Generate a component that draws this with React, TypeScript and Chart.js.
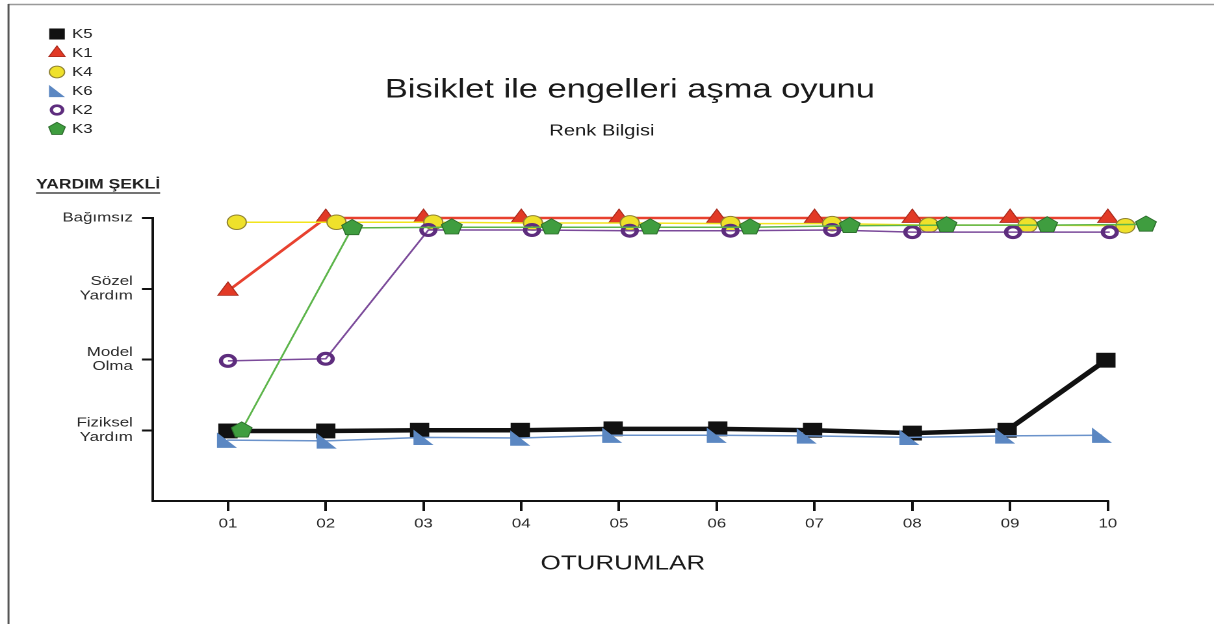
import React, { useEffect, useRef } from 'react';
import { Chart, registerables } from 'chart.js';

Chart.register(...registerables);

// ---------------- data ----------------
const sessionLabels = ['01', '02', '03', '04', '05', '06', '07', '08', '09', '10'];
// y value 1..4
const helpLevels = [['Fiziksel', 'Yardım'], ['Model', 'Olma'], ['Sözel', 'Yardım'], ['Bağımsız']];
const chartTitle = 'Bisiklet ile engelleri aşma oyunu';
const chartSubtitle = 'Renk Bilgisi';
const yAxisTitle = 'YARDIM ŞEKLİ';
const xAxisTitle = 'OTURUMLAR';
const seriesNames = ['K5', 'K1', 'K4', 'K6', 'K2', 'K3'];

// x = session (markers of overlapping series are shifted a little, as in the original)
const k5X = [1.0, 2.0, 2.96, 3.99, 4.94, 6.01, 6.98, 8.0, 8.97, 9.98];
const k5Y = [0.99, 0.99, 1.0, 1.0, 1.02, 1.02, 1.0, 0.96, 1.0, 1.99];
const k1X = [1, 2, 3, 4, 5, 6, 7, 8, 9, 10];
const k1Y = [2.97, 4, 4, 4, 4, 4, 4, 4, 4, 4];
const k4X = [1.09, 2.11, 3.1, 4.12, 5.11, 6.14, 7.18, 8.17, 9.18, 10.18];
const k4Y = [3.94, 3.94, 3.94, 3.93, 3.93, 3.92, 3.92, 3.9, 3.9, 3.89];
const k6X = [0.99, 2.01, 3.0, 3.99, 4.93, 6.0, 6.92, 7.97, 8.95, 9.94];
const k6Y = [0.86, 0.85, 0.9, 0.89, 0.93, 0.93, 0.92, 0.9, 0.92, 0.93];
const k2X = [1.0, 2.0, 3.05, 4.11, 5.11, 6.14, 7.18, 8.0, 9.03, 10.02];
const k2Y = [1.98, 2.01, 3.83, 3.83, 3.82, 3.82, 3.83, 3.8, 3.8, 3.8];
const k3X = [1.14, 2.27, 3.29, 4.31, 5.32, 6.34, 7.36, 8.35, 9.38, 10.39];
const k3Y = [1.0, 3.86, 3.87, 3.87, 3.87, 3.87, 3.89, 3.9, 3.9, 3.91];

// ---------------- layout ----------------
const FONT = '"Liberation Sans", Arial, Helvetica, sans-serif';
const S = 1.3; // the original picture is stretched horizontally
const CSS_W = 1214;
const CSS_H = 624;
const W = Math.round(CSS_W / S);
const H = CSS_H;
const px = (x: number) => x / S;

const AXIS_LEFT = 153;
const TICK_01 = 228;
const TICK_10 = 1108;
const PLOT_TOP = 218;
const PLOT_BOTTOM = 501;
const X_AXIS_H = 40;
const unitRef = (TICK_10 - TICK_01) / 9;
const X_MIN = 1 - (TICK_01 - AXIS_LEFT) / unitRef;
const X_MAX = 10.6;
const RIGHT_PAD = W - px(TICK_10 + (X_MAX - 10) * unitRef);

type MarkerKind = 'square' | 'triangle' | 'circle' | 'ring' | 'rtri' | 'pentagon';

function drawMarker(ctx: CanvasRenderingContext2D, kind: MarkerKind, x: number, y: number, k = 1) {
  ctx.save();
  ctx.beginPath();
  switch (kind) {
    case 'square': {
      const h = 7.5 * k;
      ctx.fillStyle = '#111111';
      ctx.fillRect(x - h, y - h * 0.92, 2 * h, 2 * h * 0.92);
      break;
    }
    case 'triangle': {
      const r = 9 * k;
      for (let i = 0; i < 3; i++) {
        const a = (i * 2 * Math.PI) / 3;
        const xx = x + Math.sin(a) * r;
        const yy = y - Math.cos(a) * r;
        if (i === 0) ctx.moveTo(xx, yy);
        else ctx.lineTo(xx, yy);
      }
      ctx.closePath();
      ctx.fillStyle = '#e23a26';
      ctx.fill();
      ctx.strokeStyle = '#a8291c';
      ctx.lineWidth = 0.8;
      ctx.stroke();
      break;
    }
    case 'circle': {
      ctx.arc(x, y, 7.3 * k, 0, Math.PI * 2);
      ctx.fillStyle = '#efe12b';
      ctx.fill();
      ctx.strokeStyle = '#8f8232';
      ctx.lineWidth = 1;
      ctx.stroke();
      break;
    }
    case 'ring': {
      ctx.arc(x, y, 5.4 * k, 0, Math.PI * 2);
      ctx.strokeStyle = '#5e2d7e';
      ctx.lineWidth = 3.2 * k;
      ctx.stroke();
      break;
    }
    case 'rtri': {
      const h = 7.7 * k;
      ctx.moveTo(x - h, y - h);
      ctx.lineTo(x - h, y + h);
      ctx.lineTo(x + h, y + h);
      ctx.closePath();
      ctx.fillStyle = '#5b87c2';
      ctx.fill();
      break;
    }
    case 'pentagon': {
      const R = 8.4 * k;
      for (let i = 0; i < 5; i++) {
        const a = -Math.PI / 2 + (i * 2 * Math.PI) / 5;
        const xx = x + Math.cos(a) * R;
        const yy = y + Math.sin(a) * R;
        if (i === 0) ctx.moveTo(xx, yy);
        else ctx.lineTo(xx, yy);
      }
      ctx.closePath();
      ctx.fillStyle = '#3f9d3f';
      ctx.fill();
      ctx.strokeStyle = '#2b6b2b';
      ctx.lineWidth = 0.8;
      ctx.stroke();
      break;
    }
  }
  ctx.restore();
}

const pts = (xs: number[], ys: number[]) => xs.map((x, i) => ({ x, y: ys[i] }));

const common = { tension: 0, fill: false, clip: false as const, showLine: true };

const datasets: any[] = [
  {
    ...common, label: seriesNames[0], data: pts(k5X, k5Y), marker: 'square', order: 2,
    borderColor: '#111111', borderWidth: 4.5,
    pointStyle: 'rect', pointRadius: 10.5, pointBackgroundColor: '#111111', pointBorderColor: '#111111', pointBorderWidth: 0,
  },
  {
    ...common, label: seriesNames[1], data: pts(k1X, k1Y), marker: 'triangle', order: 5,
    borderColor: '#e8412f', borderWidth: 2.5,
    pointStyle: 'triangle', pointRadius: 9, pointBackgroundColor: '#e23a26', pointBorderColor: '#a8291c', pointBorderWidth: 0.8,
  },
  {
    ...common, label: seriesNames[2], data: pts(k4X, k4Y), marker: 'circle', order: 4,
    borderColor: '#f2e41e', borderWidth: 1.5,
    pointStyle: 'circle', pointRadius: 7.3, pointBackgroundColor: '#efe12b', pointBorderColor: '#8f8232', pointBorderWidth: 1,
  },
  {
    ...common, label: seriesNames[3], data: pts(k6X, k6Y), marker: 'rtri', custom: true, order: 1,
    borderColor: '#6b93cb', borderWidth: 1.5, pointRadius: 0,
  },
  {
    ...common, label: seriesNames[4], data: pts(k2X, k2Y), marker: 'ring', order: 3,
    borderColor: '#7b4a9a', borderWidth: 1.5,
    pointStyle: 'circle', pointRadius: 5.4, pointBackgroundColor: 'rgba(0,0,0,0)', pointBorderColor: '#5e2d7e', pointBorderWidth: 3.2,
  },
  {
    ...common, label: seriesNames[5], data: pts(k3X, k3Y), marker: 'pentagon', custom: true, order: 0,
    borderColor: '#5cb54a', borderWidth: 1.5, pointRadius: 0,
  },
];

const decorPlugin = {
  id: 'decor',
  beforeDraw(chart: any) {
    const ctx: CanvasRenderingContext2D = chart.ctx;
    ctx.save();
    ctx.fillStyle = '#ffffff';
    ctx.fillRect(0, 0, chart.width, chart.height);
    // frame
    ctx.lineWidth = 1.5;
    ctx.strokeStyle = '#9a9a9a';
    ctx.beginPath();
    ctx.moveTo(px(8), 4.5);
    ctx.lineTo(chart.width, 4.5);
    ctx.stroke();
    ctx.strokeStyle = '#555555';
    ctx.beginPath();
    ctx.moveTo(px(8.5), 4);
    ctx.lineTo(px(8.5), chart.height);
    ctx.stroke();

    // titles
    ctx.fillStyle = '#1a1a1a';
    ctx.textAlign = 'center';
    ctx.textBaseline = 'middle';
    ctx.font = `26.5px ${FONT}`;
    ctx.fillText(chartTitle, px(630), 90);
    ctx.font = `15.5px ${FONT}`;
    ctx.fillText(chartSubtitle, px(602), 131);
    ctx.font = `20px ${FONT}`;
    ctx.fillText(xAxisTitle, px(623), 564);

    // y title, underlined
    ctx.font = `bold 13.5px ${FONT}`;
    ctx.textAlign = 'left';
    ctx.fillStyle = '#222222';
    ctx.fillText(yAxisTitle, px(36), 185);
    const tw = ctx.measureText(yAxisTitle).width;
    ctx.strokeStyle = '#222222';
    ctx.lineWidth = 1.2;
    ctx.beginPath();
    ctx.moveTo(px(36), 193);
    ctx.lineTo(px(36) + tw, 193);
    ctx.stroke();

    // legend
    const rows = [34, 53, 72, 91, 110, 129];
    ctx.font = `13px ${FONT}`;
    chart.data.datasets.forEach((ds: any, i: number) => {
      drawMarker(ctx, ds.marker, px(57), rows[i], 0.8);
      ctx.fillStyle = '#222222';
      ctx.textAlign = 'left';
      ctx.textBaseline = 'middle';
      ctx.fillText(ds.label, px(72), rows[i] + 0.5);
    });
    ctx.restore();
  },
  beforeDatasetsDraw(chart: any) {
    const ctx: CanvasRenderingContext2D = chart.ctx;
    const xs = chart.scales.x;
    const area = chart.chartArea;
    ctx.save();
    ctx.strokeStyle = '#111111';
    ctx.lineWidth = 2;
    ctx.beginPath();
    ctx.moveTo(area.left - 1, area.bottom);
    ctx.lineTo(xs.getPixelForValue(10) + 1, area.bottom);
    ctx.stroke();
    ctx.restore();
  },
  afterDatasetDraw(chart: any, args: any) {
    const ds = chart.data.datasets[args.index];
    if (!ds.custom) return;
    const ctx: CanvasRenderingContext2D = chart.ctx;
    args.meta.data.forEach((p: any) => drawMarker(ctx, ds.marker, p.x, p.y, 1));
  },
};

export default function App() {
  const ref = useRef<HTMLCanvasElement | null>(null);

  useEffect(() => {
    if (!ref.current) return;
    const chart = new Chart(ref.current, {
      type: 'line',
      data: { datasets },
      options: {
        animation: false,
        responsive: false,
        devicePixelRatio: 2,
        events: [],
        layout: { padding: { left: 0, top: PLOT_TOP, right: RIGHT_PAD, bottom: H - PLOT_BOTTOM - X_AXIS_H } },
        plugins: { legend: { display: false }, tooltip: { enabled: false }, title: { display: false } },
        scales: {
          x: {
            type: 'linear',
            min: X_MIN,
            max: X_MAX,
            afterBuildTicks: (scale: any) => {
              scale.ticks = sessionLabels.map((_, i) => ({ value: i + 1 }));
            },
            afterFit: (scale: any) => {
              scale.height = X_AXIS_H;
            },
            border: { display: false },
            grid: { display: true, drawOnChartArea: false, drawTicks: true, tickLength: 10, color: '#111111', lineWidth: 2 },
            ticks: {
              autoSkip: false,
              maxRotation: 0,
              padding: 5,
              color: '#2a2a2a',
              font: { family: FONT, size: 13 },
              callback: (_v: any, i: number) => sessionLabels[i],
            },
          },
          y: {
            type: 'linear',
            min: 0,
            max: 4,
            afterBuildTicks: (scale: any) => {
              scale.ticks = helpLevels.map((_, i) => ({ value: i + 1 }));
            },
            afterFit: (scale: any) => {
              scale.width = px(AXIS_LEFT);
            },
            border: { display: true, color: '#111111', width: 2 },
            grid: { display: true, drawOnChartArea: false, drawTicks: true, tickLength: 8.5, color: '#111111', lineWidth: 2 },
            ticks: {
              autoSkip: false,
              padding: 7,
              color: '#2a2a2a',
              font: { family: FONT, size: 13, lineHeight: 1.1 },
              callback: (_v: any, i: number) => helpLevels[i],
            },
          },
        },
      },
      plugins: [decorPlugin],
    } as any);
    return () => chart.destroy();
  }, []);

  return (
    <canvas
      ref={ref}
      width={W}
      height={H}
      style={{ position: 'absolute', left: 0, top: 0, width: `${CSS_W}px`, height: `${CSS_H}px` }}
    />
  );
}
